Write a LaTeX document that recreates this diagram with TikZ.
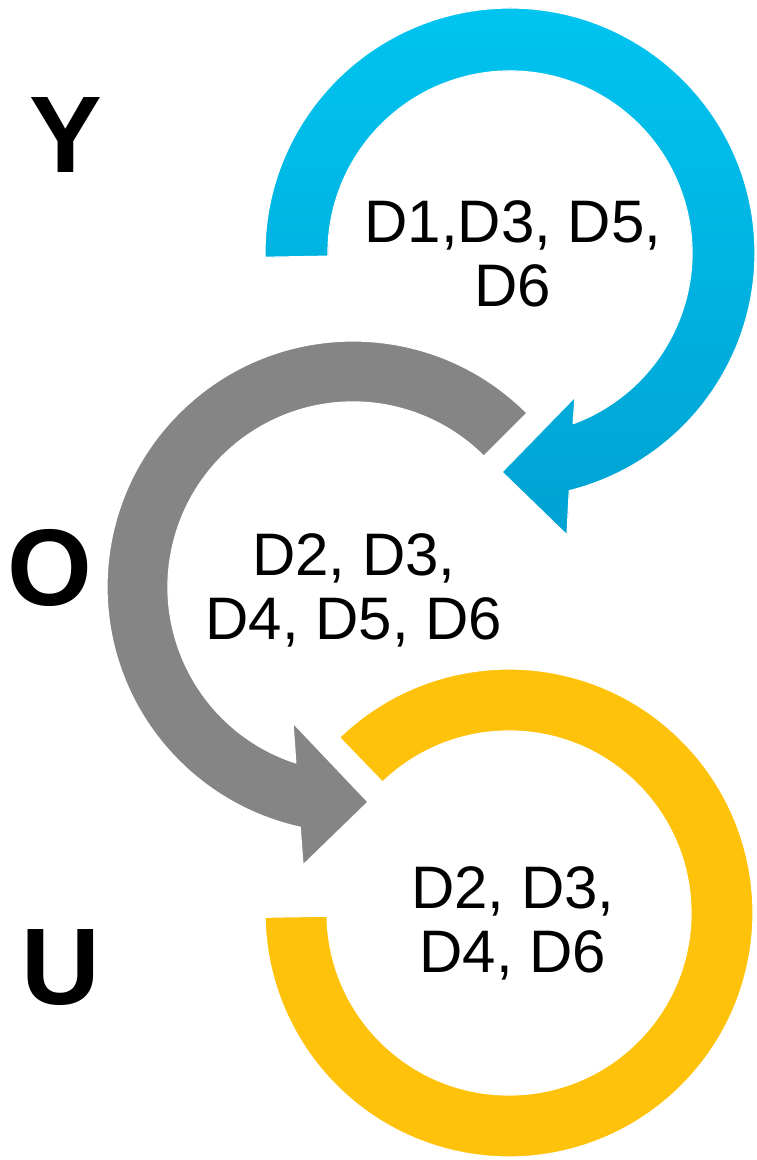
\documentclass[tikz,border=0pt]{standalone}
\usepackage{fontspec}
\setmainfont{Liberation Sans}
\usepackage{tikz}
\usetikzlibrary{calc,positioning}
\definecolor{ycyan}{HTML}{00C4F0}
\definecolor{ycyandk}{HTML}{00A2D2}
\definecolor{ogray}{HTML}{858585}
\definecolor{ugold}{HTML}{FFC20A}
\tikzstyle{letter}=[anchor=base,font=\fontsize{109}{110}\selectfont\bfseries]
\tikzstyle{dlabel}=[anchor=base,align=center,font=\fontsize{60}{64}\selectfont]
\tikzstyle{bevel}=[draw=white,line width=1.2pt,line join=round]

\begin{document}
\begin{tikzpicture}[x=1pt,y=1pt]
\useasboundingbox (0,0) rectangle (756,1160);
\coordinate (bc) at (510,907);
\coordinate (gc) at (353,573);
\coordinate (yc) at (509,247);

\fill[top color=ycyan,bottom color=ycyandk,bevel] ($(bc)+(181:182pt)$) -- ($(bc)+(181:245pt)$)
  arc[start angle=181,end angle=-76,radius=245pt] -- (567,625) -- (502,688) -- (575,763)
  -- ($(bc)+(-69.7:182pt)$) arc[start angle=-69.7,end angle=181,radius=182pt] -- cycle;
\fill[ogray,bevel] ($(gc)+(45:185pt)$) -- ($(gc)+(45:246pt)$)
  arc[start angle=45,end angle=257.6,radius=246pt] -- (303,295) -- (368,358) -- (293,437)
  -- ($(gc)+(252:185pt)$) arc[start angle=252,end angle=45,radius=185pt] -- cycle;
\fill[ugold,bevel] ($(yc)+(134:182pt)$) -- ($(yc)+(134:244pt)$)
  arc[start angle=134,end angle=-179,radius=244pt]
  -- ($(yc)+(-179:182pt)$) arc[start angle=-179,end angle=134,radius=182pt] -- cycle;

\node [letter] (y) at (65.5,987) {Y};
\node [letter] (o) at (50,554) {O};
\node [letter] (u) at (60.5,155) {U};

\node [dlabel] (l1) at (513,853) {D1,D3, D5,\\D6};
\node [dlabel] (l2) at (354,520) {D2, D3,\\D4, D5, D6};
\node [dlabel] (l3) at (513,187) {D2, D3,\\D4, D6};
\end{tikzpicture}
\end{document}
